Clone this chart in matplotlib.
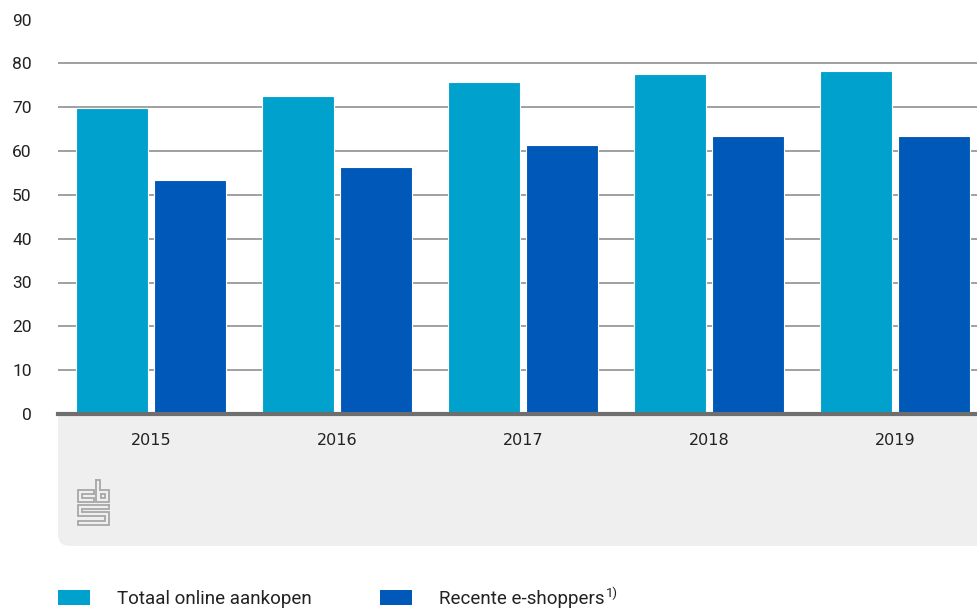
import matplotlib.pyplot as plt
import numpy as np
from matplotlib.patches import Rectangle, PathPatch
from matplotlib.path import Path

# Aandeel online aankopen per jaar (%)
jaren = ['2015', '2016', '2017', '2018', '2019']
totaal_online = [69.7, 72.6, 75.7, 77.6, 78.3]
recente_shoppers = [53.3, 56.4, 61.4, 63.4, 63.4]
reeksen = ['Totaal online aankopen', 'Recente e-shoppers']
voetnoten = ['', '1)']
kleuren = ['#00a1cd', '#0058b8']

W, H = 977, 608
fig = plt.figure(figsize=(W / 100, H / 100), dpi=100)

# achtergrondlaag in pixelcoordinaten (grijs vlak, logo, legenda)
bg = fig.add_axes([0, 0, 1, 1], zorder=0)
bg.set_xlim(0, W)
bg.set_ylim(H, 0)
bg.axis('off')

# grijs vlak onder de x-as met afgeronde hoek linksonder
r = 12
x0, x1, y0, y1 = 58, 990, 414, 546
verts = [(x0, y0), (x1, y0), (x1, y1), (x0 + r, y1), (x0, y1), (x0, y1 - r), (x0, y0)]
codes = [Path.MOVETO, Path.LINETO, Path.LINETO, Path.LINETO, Path.CURVE3, Path.CURVE3, Path.CLOSEPOLY]
bg.add_patch(PathPatch(Path(verts, codes), facecolor='#efefef', edgecolor='none'))

# cbs-logo
lc = '#a8a8a8'
lw = 1.3
logo = [
    # c
    [(94, 494), (94, 490), (78, 490), (78, 502), (94, 502), (94, 498), (82, 498), (82, 494), (94, 494)],
    # b
    [(96, 480), (100, 480), (100, 490), (109, 490), (109, 502), (96, 502), (96, 480)],
    [(101, 494), (105, 494), (105, 498), (101, 498), (101, 494)],
    # s
    [(109, 505), (78, 505), (78, 516), (105, 516), (105, 521), (78, 521), (78, 525),
     (109, 525), (109, 512), (82, 512), (82, 509), (109, 509), (109, 505)],
]
for pts in logo:
    xs, ys = zip(*pts)
    bg.plot(xs, ys, color=lc, lw=lw, solid_joinstyle='miter')

# legenda
leg_x = [58, 380]
renderer = fig.canvas.get_renderer()
for i, naam in enumerate(reeksen):
    bg.add_patch(Rectangle((leg_x[i], 590), 32, 15, facecolor=kleuren[i], edgecolor='none'))
    t = bg.text(leg_x[i] + 59, 604, naam, fontsize=13.5, family='Roboto', color='#222222',
                va='baseline', ha='left')
    if voetnoten[i]:
        bb = t.get_window_extent(renderer)
        bg.text(leg_x[i] + 59 + bb.width + 1, 597, voetnoten[i], fontsize=9.5, family='Roboto',
                color='#222222', va='baseline', ha='left')

# hoofdgrafiek
ax = fig.add_axes([58 / W, (H - 414) / H, 930 / W, (414 - 19.5) / H], zorder=1)
ax.patch.set_alpha(0)
x = np.arange(len(jaren))
bw = 0.387
off = 0.21
ax.bar(x - off, totaal_online, bw, color=kleuren[0], edgecolor='white', linewidth=0.8, zorder=3)
ax.bar(x + off, recente_shoppers, bw, color=kleuren[1], edgecolor='white', linewidth=0.8, zorder=3)

ax.set_xlim(-0.5, len(jaren) - 0.5)
ax.set_ylim(0, 90)
ax.set_yticks(range(0, 91, 10))
ax.set_xticks(x)
ax.set_xticklabels(jaren, fontsize=11.5, color='#222222')
ax.tick_params(axis='x', length=0, pad=14)
ax.tick_params(axis='y', length=0, pad=19, labelsize=12.5, labelcolor='#222222')
for lab in ax.get_yticklabels():
    lab.set_family('Roboto')

ax.yaxis.grid(True, color='#999999', linewidth=1.3, zorder=1)
ax.set_axisbelow(True)
for s in ['top', 'right', 'left']:
    ax.spines[s].set_visible(False)
ax.spines['bottom'].set_color('#6e6e6e')
ax.spines['bottom'].set_linewidth(3)
ax.spines['bottom'].set_zorder(4)

fig.savefig('out.png', dpi=100)
